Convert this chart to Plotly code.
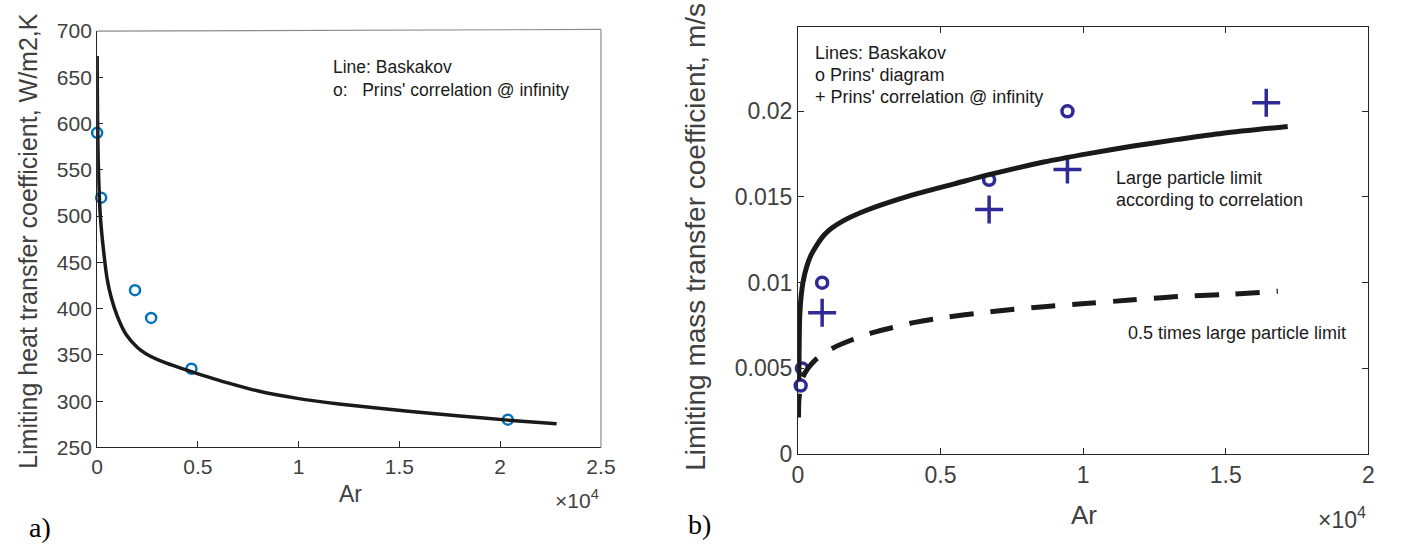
import plotly.graph_objects as go

W, H = 1403, 554

# ---------------- data: panel a) ----------------
a_line_ar = [2, 10, 40, 88, 156, 303, 498, 700, 1000, 1440, 2000, 2440, 3440, 4680, 6440, 8000, 9940, 12000,
             15440, 18000, 20380, 22800]
a_line_h = [673, 638, 575, 535, 501, 466, 432, 412, 392, 372, 358, 351, 341, 332, 320, 311, 303, 297,
            289, 284, 279.5, 275.5]
a_pts_ar = [0, 200, 1880, 2680, 4680, 20380]
a_pts_h = [590, 520, 420, 390, 335, 280]
a_xticks = [0, 5000, 10000, 15000, 20000, 25000]
a_xticktext = ["0", "0.5", "1", "1.5", "2", "2.5"]
a_yticks = [250, 300, 350, 400, 450, 500, 550, 600, 650, 700]

# ---------------- data: panel b) ----------------
b_solid_ar = [30, 40, 63, 110, 173, 300, 455, 700, 926, 1200, 1554, 2339, 3909, 5479, 6703, 8618, 10188, 11758,
              13328, 14898, 17174]
b_solid_k = [0.0043, 0.0060, 0.0081, 0.0092, 0.0100, 0.0109, 0.0116, 0.0123, 0.0128, 0.0132, 0.01358, 0.01418,
             0.01506, 0.01576, 0.0163, 0.01704, 0.01753, 0.01797, 0.01836, 0.01872, 0.01911]
b_dash_ar = [20, 40, 173, 612, 1240, 1946, 2653, 3359, 4144, 4851, 6703, 8618, 10188, 11758, 13328, 14898, 16829]
b_dash_k = [0.00213, 0.0033, 0.0045, 0.0055, 0.0062, 0.0067, 0.0071, 0.0074, 0.0077, 0.0079, 0.0083, 0.0086,
            0.0088, 0.0090, 0.0092, 0.0093, 0.0095]
b_diag_ar = [94, 141, 848, 6703, 9450]
b_diag_k = [0.0040, 0.0050, 0.0100, 0.0160, 0.0200]
b_corr_ar = [848, 6703, 9450, 16421]
b_corr_k = [0.00825, 0.01427, 0.0166, 0.0205]
b_xticks = [0, 5000, 10000, 15000, 20000]
b_xticktext = ["0", "0.5", "1", "1.5", "2"]
b_yticks = [0, 0.005, 0.01, 0.015, 0.02]
b_yticktext = ["0", "0.005", "0.01", "0.015", "0.02"]

FONT = "Liberation Sans, Arial, sans-serif"
SERIF = "Liberation Serif, Times New Roman, serif"
TICKC = "#404040"
AXC = "#262626"
BLUE = "#0072BD"
INDIGO = "#2F2A96"

def px(x):
    return x / W

def py(y):
    return 1 - y / H

fig = go.Figure()

# panel a
fig.add_trace(go.Scatter(x=a_pts_ar, y=a_pts_h, mode="markers", xaxis="x", yaxis="y",
                         marker=dict(symbol="circle-open", size=10, color=BLUE, line=dict(width=2.5, color=BLUE)),
                         cliponaxis=False, showlegend=False))
fig.add_trace(go.Scatter(x=a_line_ar, y=a_line_h, mode="lines", xaxis="x", yaxis="y",
                         line=dict(color="#1a1a1a", width=3.5, shape="spline", smoothing=0.8), showlegend=False))

# panel b
fig.add_trace(go.Scatter(x=b_diag_ar, y=b_diag_k, mode="markers", xaxis="x2", yaxis="y2",
                         marker=dict(symbol="circle-open", size=11, color=INDIGO, line=dict(width=3.5, color=INDIGO)),
                         cliponaxis=False, showlegend=False))
fig.add_trace(go.Scatter(x=b_corr_ar, y=b_corr_k, mode="markers", xaxis="x2", yaxis="y2",
                         marker=dict(symbol="cross-thin-open", size=20, color=INDIGO, line=dict(width=3.5, color=INDIGO)),
                         cliponaxis=False, showlegend=False))
fig.add_trace(go.Scatter(x=b_solid_ar, y=b_solid_k, mode="lines", xaxis="x2", yaxis="y2",
                         line=dict(color="#1a1a1a", width=5, shape="spline", smoothing=0.8), showlegend=False))
fig.add_trace(go.Scatter(x=b_dash_ar, y=b_dash_k, mode="lines", xaxis="x2", yaxis="y2",
                         line=dict(color="#1a1a1a", width=5, dash="24px,17px", shape="spline", smoothing=0.8),
                         showlegend=False))

axis_common = dict(showline=True, linecolor=AXC, linewidth=1, ticks="inside", ticklen=6,
                   tickcolor=AXC, showgrid=False, zeroline=False)

fig.update_layout(
    width=W, height=H, margin=dict(l=0, r=0, t=0, b=0),
    paper_bgcolor="white", plot_bgcolor="white",
    xaxis=dict(axis_common, mirror=False, domain=[px(92.5), px(604)], range=[0, 25000], tickvals=a_xticks,
               ticktext=a_xticktext, anchor="y", tickfont=dict(family=FONT, color=TICKC, size=21)),
    yaxis=dict(axis_common, mirror=False, domain=[py(456), py(20)], range=[250, 700], tickvals=a_yticks,
               anchor="x", tickfont=dict(family=FONT, color=TICKC, size=21)),
    xaxis2=dict(axis_common, mirror="ticks", domain=[px(804), px(1383)], range=[0, 20000], tickvals=b_xticks,
                ticktext=b_xticktext, anchor="y2", tickfont=dict(family=FONT, color=TICKC, size=23)),
    yaxis2=dict(axis_common, mirror="ticks", domain=[py(463), py(16)], range=[0, 0.0249], tickvals=b_yticks,
                ticktext=b_yticktext, anchor="x2", tickfont=dict(family=FONT, color=TICKC, size=23)),
)

# lighter top / right border of panel a
fig.add_shape(type="line", xref="x domain", yref="y domain", x0=0, x1=1, y0=1, y1=1.004,
              line=dict(color="#8c8c8c", width=1.2))
fig.add_shape(type="line", xref="x domain", yref="y domain", x0=1, x1=1, y0=0, y1=1.004,
              line=dict(color="#8c8c8c", width=1.2))

def ann(text, x, y, size, xanchor="left", yanchor="middle", color="#1a1a1a", angle=0, family=FONT):
    fig.add_annotation(text=text, x=px(x), y=py(y), xref="paper", yref="paper", showarrow=False,
                       xanchor=xanchor, yanchor=yanchor, textangle=angle,
                       font=dict(family=family, size=size, color=color))

# panel a texts
ann("Line: Baskakov", 330, 58, 17.5)
ann("o:   Prins' correlation @ infinity", 330, 82, 17.5)
ann("Limiting heat transfer coefficient, W/m2,K", 22, 240, 25, xanchor="center", color=TICKC, angle=-90)
ann("Ar", 350, 505, 23, xanchor="center", color=TICKC)
ann("×10<sup>4</sup>", 604, 510, 21, xanchor="right", color=TICKC)
ann("a)", 35, 540, 28, xanchor="center", family=SERIF, color="#000000")

# panel b texts
ann("Lines: Baskakov", 819, 43, 18)
ann("o Prins' diagram", 819, 66, 18)
ann("+ Prins' correlation @ infinity", 819, 89, 18)
ann("Large particle limit", 1125, 174, 18)
ann("according to correlation", 1125, 197, 18)
ann("0.5 times large particle limit", 1137, 336, 18)
ann("Limiting mass transfer coefficient, m/s", 700, 236, 28, xanchor="center", color=TICKC, angle=-90)
ann("Ar", 1094, 527, 26, xanchor="center", color=TICKC)
ann("×10<sup>4</sup>", 1383, 530, 23, xanchor="right", color=TICKC)
ann("b)", 704, 537, 28, xanchor="center", family=SERIF, color="#000000")

fig.write_html("out.html", config={"displayModeBar": False},
               post_script="document.body.style.margin='0px';document.body.style.overflow='hidden';")
